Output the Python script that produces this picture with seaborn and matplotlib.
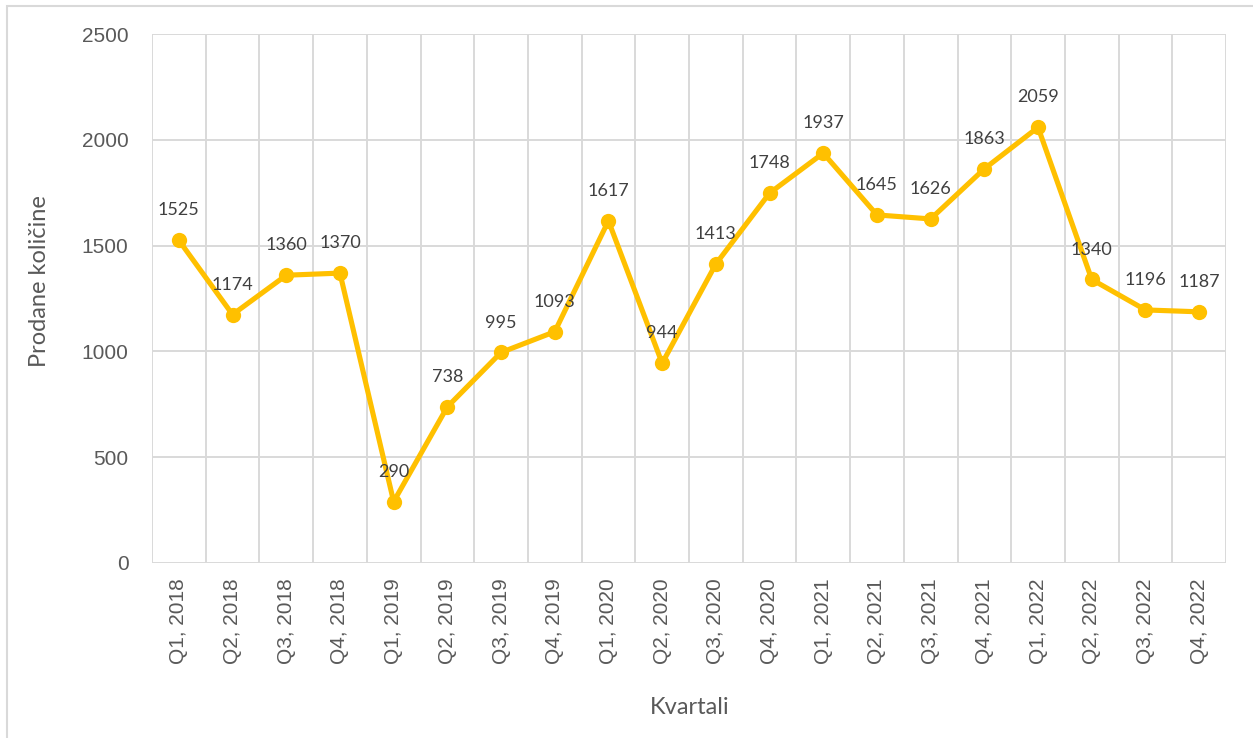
import matplotlib
matplotlib.use("Agg")
import matplotlib.pyplot as plt
import seaborn as sns
import pandas as pd
from matplotlib.ticker import FixedLocator, MultipleLocator
from matplotlib.patches import Rectangle

quarters = ["Q1, 2018", "Q2, 2018", "Q3, 2018", "Q4, 2018",
            "Q1, 2019", "Q2, 2019", "Q3, 2019", "Q4, 2019",
            "Q1, 2020", "Q2, 2020", "Q3, 2020", "Q4, 2020",
            "Q1, 2021", "Q2, 2021", "Q3, 2021", "Q4, 2021",
            "Q1, 2022", "Q2, 2022", "Q3, 2022", "Q4, 2022"]
sold = [1525, 1174, 1360, 1370, 290, 738, 995, 1093, 1617, 944,
        1413, 1748, 1937, 1645, 1626, 1863, 2059, 1340, 1196, 1187]

df = pd.DataFrame({"Kvartali": quarters, "Prodane količine": sold})

sns.set_theme(style="white")
plt.rcParams["font.family"] = ["Liberation Sans", "DejaVu Sans"]

fig = plt.figure(figsize=(12.53, 7.38), dpi=100)
ax = fig.add_axes([152 / 1253, 1 - 563 / 738, (1226 - 152) / 1253, (563 - 34) / 738])

gold = "#FFC000"
sns.lineplot(data=df, x="Kvartali", y="Prodane količine", ax=ax, color=gold,
             linewidth=3.7, marker="o", markersize=11, markeredgewidth=0,
             sort=False)

n = len(quarters)
ax.set_xlim(-0.5, n - 0.5)
ax.set_ylim(0, 2500)
ax.yaxis.set_major_locator(MultipleLocator(500))
ax.xaxis.set_minor_locator(FixedLocator([i - 0.5 for i in range(n + 1)]))
ax.set_xticks(range(n))
ax.set_xticklabels(quarters, rotation=90)

grid_c = "#D9D9D9"
ax.grid(True, axis="y", which="major", color=grid_c, linewidth=1.4)
ax.grid(True, axis="x", which="minor", color=grid_c, linewidth=1.4)
ax.grid(False, axis="x", which="major")
ax.set_axisbelow(True)
for s in ax.spines.values():
    s.set_visible(False)

txt_c = "#595959"
ax.tick_params(axis="y", which="both", length=0, pad=17, labelsize=15, labelcolor=txt_c)
ax.tick_params(axis="x", which="both", length=0, pad=11, labelsize=15, labelcolor=txt_c)

ax.set_xlabel("")
ax.set_ylabel("")
fig.text(690 / 1253, 1 - 707 / 738, "Kvartali", ha="center", va="center",
         fontsize=17, color=txt_c, family=["Lato", "DejaVu Sans"])
fig.text(40 / 1253, 1 - 281 / 738, "Prodane količine", ha="center", va="center",
         rotation=90, fontsize=17, color=txt_c, family=["Lato", "DejaVu Sans"])

for i, v in enumerate(sold):
    ax.annotate(str(v), (i, v), xytext=(0, 21.5), textcoords="offset points",
                ha="center", va="center", fontsize=13, color="#404040",
                family=["Lato", "DejaVu Sans"])

fig.patches.append(Rectangle((7 / 1253, -0.1), 1.2, 1 - 6 / 738 + 0.1,
                             transform=fig.transFigure, fill=False,
                             edgecolor="#D9D9D9", linewidth=1.5))

fig.savefig("out.png", dpi=100)
